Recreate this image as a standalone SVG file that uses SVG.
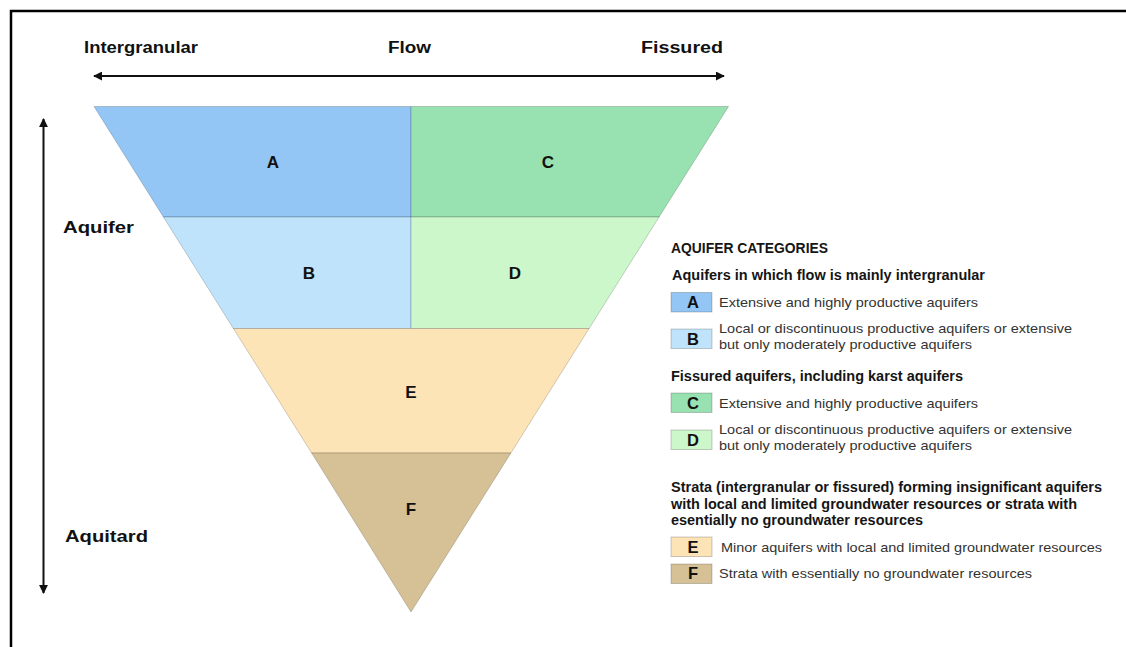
<svg xmlns="http://www.w3.org/2000/svg" width="1126" height="647" viewBox="0 0 1126 647">
<defs>
<marker id="ah" viewBox="0 0 10 10" refX="9" refY="5" markerWidth="4.5" markerHeight="4.5" orient="auto-start-reverse" markerUnits="strokeWidth">
<path d="M0,0 L10,5 L0,10 z" fill="#111"/>
</marker>
<style>
.t{font-family:"Liberation Sans",Arial,sans-serif;font-weight:bold;fill:#111}
.ax{font-size:16px}
.cl{font-size:17px;text-anchor:middle}
.h{font-family:"Liberation Sans",Arial,sans-serif;font-weight:bold;fill:#151515;font-size:14px}
.r{font-family:"Liberation Sans",Arial,sans-serif;fill:#333;font-size:13px}
.cell{stroke:#000;stroke-opacity:0.18;stroke-width:1}
.box{stroke:#000;stroke-opacity:0.2;stroke-width:1}
.bl{font-family:"Liberation Sans",Arial,sans-serif;font-weight:bold;fill:#111;font-size:16.5px;text-anchor:middle}
.a{fill:#93c6f4}.b{fill:#bee3fa}.c{fill:#97e2b0}.d{fill:#ccf7cb}.e{fill:#fde4b7}.f{fill:#d6c196}
</style>
</defs>
<rect width="1126" height="647" fill="#fff"/>
<path d="M11,647 V11 H1126" fill="none" stroke="#000" stroke-width="2.5"/>

<g id="axis-labels">
<text class="t ax" x="84" y="53" textLength="114" lengthAdjust="spacingAndGlyphs">Intergranular</text>
<text class="t ax" x="388" y="53" textLength="43" lengthAdjust="spacingAndGlyphs">Flow</text>
<text class="t ax" x="641" y="53" textLength="82" lengthAdjust="spacingAndGlyphs">Fissured</text>
<text class="t ax" x="63" y="233" textLength="71" lengthAdjust="spacingAndGlyphs">Aquifer</text>
<text class="t ax" x="65" y="542" textLength="83" lengthAdjust="spacingAndGlyphs">Aquitard</text>
</g>

<g id="connectors" fill="none" stroke="#111" stroke-width="2">
<line x1="94" y1="76" x2="724" y2="76" marker-start="url(#ah)" marker-end="url(#ah)"/>
<line x1="43.5" y1="119" x2="43.5" y2="593" marker-start="url(#ah)" marker-end="url(#ah)"/>
</g>

<g id="cell-A"><polygon class="cell a" points="94,106.5 411,106.5 411,217 163.4,217"/><text class="t cl" x="273" y="168">A</text></g>
<g id="cell-C"><polygon class="cell c" points="411,106.5 728.5,106.5 659.1,217 411,217"/><text class="t cl" x="548" y="168">C</text></g>
<g id="cell-B"><polygon class="cell b" points="163.4,217 411,217 411,328.5 233.4,328.5"/><text class="t cl" x="309" y="279">B</text></g>
<g id="cell-D"><polygon class="cell d" points="411,217 659.1,217 589.1,328.5 411,328.5"/><text class="t cl" x="515" y="279">D</text></g>
<g id="cell-E"><polygon class="cell e" points="233.4,328.5 589.1,328.5 510.9,453 311.6,453"/><text class="t cl" x="411" y="398">E</text></g>
<g id="cell-F"><polygon class="cell f" points="311.6,453 510.9,453 411,612"/><text class="t cl" x="411" y="515">F</text></g>

<g id="legend-title">
<text class="h" x="671" y="253" textLength="157" lengthAdjust="spacingAndGlyphs">AQUIFER CATEGORIES</text>
</g>
<g id="legend-intergranular">
<text class="h" x="672" y="280" textLength="313" lengthAdjust="spacingAndGlyphs">Aquifers in which flow is mainly intergranular</text>
</g>
<g id="legend-A">
<rect class="box a" x="671" y="292.5" width="41" height="19.5"/>
<text class="bl" x="693" y="308">A</text>
<text class="r" x="719" y="307" textLength="259" lengthAdjust="spacingAndGlyphs">Extensive and highly productive aquifers</text>
</g>
<g id="legend-B">
<rect class="box b" x="671" y="329" width="41" height="19.5"/>
<text class="bl" x="693" y="344.5">B</text>
<text class="r" x="719" y="333" textLength="353" lengthAdjust="spacingAndGlyphs">Local or discontinuous productive aquifers or extensive</text>
<text class="r" x="719" y="349" textLength="253" lengthAdjust="spacingAndGlyphs">but only moderately productive aquifers</text>
</g>
<g id="legend-fissured">
<text class="h" x="671" y="381" textLength="292" lengthAdjust="spacingAndGlyphs">Fissured aquifers, including karst aquifers</text>
</g>
<g id="legend-C">
<rect class="box c" x="671" y="393" width="41" height="19.5"/>
<text class="bl" x="693" y="408.5">C</text>
<text class="r" x="719" y="408" textLength="259" lengthAdjust="spacingAndGlyphs">Extensive and highly productive aquifers</text>
</g>
<g id="legend-D">
<rect class="box d" x="671" y="430" width="41" height="19.5"/>
<text class="bl" x="693" y="445.5">D</text>
<text class="r" x="719" y="434" textLength="353" lengthAdjust="spacingAndGlyphs">Local or discontinuous productive aquifers or extensive</text>
<text class="r" x="719" y="450" textLength="253" lengthAdjust="spacingAndGlyphs">but only moderately productive aquifers</text>
</g>
<g id="legend-strata">
<text class="h" x="671" y="492" textLength="431" lengthAdjust="spacingAndGlyphs">Strata (intergranular or fissured) forming insignificant aquifers</text>
<text class="h" x="671" y="508.5" textLength="406" lengthAdjust="spacingAndGlyphs">with local and limited groundwater resources or strata with</text>
<text class="h" x="671" y="525" textLength="252" lengthAdjust="spacingAndGlyphs">esentially no groundwater resources</text>
</g>
<g id="legend-E">
<rect class="box e" x="671" y="537" width="41" height="19.5"/>
<text class="bl" x="693" y="552.5">E</text>
<text class="r" x="721" y="552" textLength="381" lengthAdjust="spacingAndGlyphs">Minor aquifers with local and limited groundwater resources</text>
</g>
<g id="legend-F">
<rect class="box f" x="671" y="564" width="41" height="19.5"/>
<text class="bl" x="693" y="579">F</text>
<text class="r" x="719" y="578" textLength="313" lengthAdjust="spacingAndGlyphs">Strata with essentially no groundwater resources</text>
</g>
</svg>
